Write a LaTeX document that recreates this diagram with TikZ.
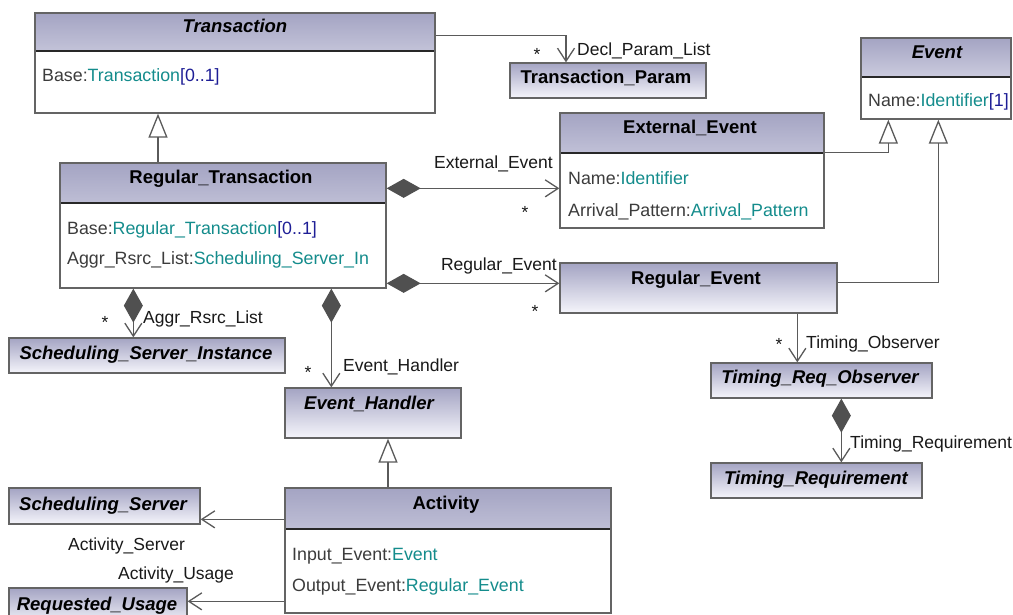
\documentclass[tikz,border=0pt]{standalone}
\usepackage{fontspec}
\setmainfont{Liberation Sans}
\usetikzlibrary{arrows.meta}

\definecolor{hdtop}{RGB}{164,164,195}
\definecolor{hdbot}{RGB}{245,245,251}
\definecolor{boxc}{RGB}{100,100,100}
\definecolor{sepc}{RGB}{40,40,40}
\definecolor{linec}{RGB}{90,90,90}
\definecolor{dfill}{RGB}{80,80,80}
\definecolor{namec}{RGB}{60,60,60}
\definecolor{typec}{RGB}{20,140,140}
\definecolor{multc}{RGB}{30,30,150}
\definecolor{lblc}{RGB}{25,25,25}

\newcommand\tyc[1]{\textcolor{typec}{#1}}
\newcommand\mlc[1]{\textcolor{multc}{#1}}

\tikzset{
  cls/.style={draw=boxc, line width=1.3pt, fill=white, inner sep=0pt, rectangle},
  hdr/.style={path picture={
      \shade[top color=hdtop, bottom color=hdbot]
        (path picture bounding box.north west) rectangle ([yshift=-#1pt]path picture bounding box.north east);
      \draw[sepc, line width=1.6pt]
        ([yshift=-#1pt]path picture bounding box.north west) -- ([yshift=-#1pt]path picture bounding box.north east);
  }},
  full/.style={top color=hdtop, bottom color=hdbot},
  title/.style={inner sep=0pt, text=black, font=\fontsize{18.5}{22}\selectfont\bfseries},
  ititle/.style={inner sep=0pt, text=black, font=\fontsize{18.5}{22}\selectfont\bfseries\itshape},
  attr/.style={inner sep=0pt, anchor=base west, text=namec, font=\fontsize{17.8}{21}\selectfont},
  lbl/.style={inner sep=0pt, text=lblc, font=\fontsize{17.5}{21}\selectfont},
  conn/.style={draw=linec, line width=1.3pt},
  assoc/.style={conn, -{Straight Barb[length=13pt,width=17pt]}},
  comp/.style={conn, {Diamond[length=34pt,width=19pt,color=dfill]}-{Straight Barb[length=13pt,width=17pt]}},
  gen/.style={conn, -{Triangle[open,length=24pt,width=19pt,fill=white]}},
}

\begin{document}
\begin{tikzpicture}[x=1pt, y=-1pt]
  \useasboundingbox (0,0) rectangle (1013,615);
  \fill[white] (0,0) rectangle (1013,615);
  \clip (0,0) rectangle (1013,615);

  % class boxes
  \node[cls, hdr=38, minimum width=400pt, minimum height=100pt] (tr) at (235,63) {};
  \node[cls, full, minimum width=196pt, minimum height=35pt] (tp) at (608,80.5) {};
  \node[cls, hdr=39, minimum width=150pt, minimum height=81pt] (ev) at (936,78.5) {};
  \node[cls, hdr=40, minimum width=264pt, minimum height=115pt] (ee) at (692,170.5) {};
  \node[cls, hdr=40, minimum width=326pt, minimum height=125pt] (rt) at (223,225.5) {};
  \node[cls, full, minimum width=277pt, minimum height=50pt] (re) at (698.5,288) {};
  \node[cls, full, minimum width=276pt, minimum height=35pt] (ssi) at (147,355.5) {};
  \node[cls, full, minimum width=176pt, minimum height=50pt] (eh) at (373,413) {};
  \node[cls, full, minimum width=221pt, minimum height=35pt] (tro) at (821.5,380.5) {};
  \node[cls, full, minimum width=211pt, minimum height=35pt] (treq) at (816.5,480.5) {};
  \node[cls, hdr=41, minimum width=326pt, minimum height=125pt] (act) at (448,550.5) {};
  \node[cls, full, minimum width=191pt, minimum height=36pt] (ss) at (104.5,506) {};
  \node[cls, full, minimum width=178pt, minimum height=36pt] (ru) at (98,606) {};

  % class names
  \node[ititle, anchor=base] (tr-t) at (235,33) {Transaction};
  \node[title, anchor=base] (tp-t) at (606,84) {Transaction\_Param};
  \node[ititle, anchor=base] (ev-t) at (937,59) {Event};
  \node[title, anchor=base] (ee-t) at (690,134) {External\_Event};
  \node[title, anchor=base] (rt-t) at (221,184) {Regular\_Transaction};
  \node[title, anchor=base] (re-t) at (696,284) {Regular\_Event};
  \node[ititle, anchor=base] (ssi-t) at (146,359) {Scheduling\_Server\_Instance};
  \node[ititle, anchor=base] (eh-t) at (369,409) {Event\_Handler};
  \node[ititle, anchor=base] (tro-t) at (820,383) {Timing\_Req\_Observer};
  \node[ititle, anchor=base] (treq-t) at (816,484) {Timing\_Requirement};
  \node[title, anchor=base] (act-t) at (446,509) {Activity};
  \node[ititle, anchor=base] (ss-t) at (103,510) {Scheduling\_Server};
  \node[ititle, anchor=base] (ru-t) at (97,610) {Requested\_Usage};

  % attributes
  \node[attr] (tr-a1) at (42,82) {Base:\tyc{Transaction}\mlc{[0..1]}};
  \node[attr] (ev-a1) at (868,107) {Name:\tyc{Identifier}\mlc{[1]}};
  \node[attr] (ee-a1) at (568,185) {Name:\tyc{Identifier}};
  \node[attr] (ee-a2) at (568,216) {Arrival\_Pattern:\tyc{Arrival\_Pattern}};
  \node[attr] (rt-a1) at (67,235) {Base:\tyc{Regular\_Transaction}\mlc{[0..1]}};
  \node[attr] (rt-a2) at (67,265) {Aggr\_Rsrc\_List:\tyc{Scheduling\_Server\_In}};
  \node[attr] (act-a1) at (292,560) {Input\_Event:\tyc{Event}};
  \node[attr] (act-a2) at (292,591) {Output\_Event:\tyc{Regular\_Event}};

  % connector end points
  \coordinate (c1) at ([yshift=-23pt]tr.north east);
  \coordinate (c1e) at ([xshift=-42pt]tp.north);
  \coordinate (c2) at ([xshift=-65pt]rt.north);
  \coordinate (c3) at ([yshift=-26pt]rt.north east);
  \coordinate (c4) at ([yshift=-121pt]rt.north east);
  \coordinate (c5) at ([xshift=74pt]rt.south west);
  \coordinate (c6) at ([xshift=272pt]rt.south west);
  \coordinate (c7) at ([yshift=-40pt]ee.north east);
  \coordinate (c7e) at ([xshift=28pt]ev.south west);
  \coordinate (c8) at ([yshift=-20pt]re.north east);
  \coordinate (c8e) at ([xshift=78pt]ev.south west);
  \coordinate (c9) at ([xshift=238pt]re.south west);
  \coordinate (c10) at ([xshift=131pt]tro.south west);
  \coordinate (c11) at ([xshift=-60pt]act.north);
  \coordinate (c12) at ([yshift=-32pt]act.north west);
  \coordinate (c13) at ([yshift=-114pt]act.north west);

  % connectors
  \draw[assoc] (c1) -| (c1e);
  \draw[gen] (c2) -- (c2 |- tr.south);
  \draw[comp] (c3) -- (c3 -| ee.west);
  \draw[comp] (c4) -- (c4 -| re.west);
  \draw[comp] (c5) -- (c5 |- ssi.north);
  \draw[comp] (c6) -- (c6 |- eh.north);
  \draw[gen] (c7) -| (c7e);
  \draw[gen] (c8) -| (c8e);
  \draw[assoc] (c9) -- (c9 |- tro.north);
  \draw[comp] (c10) -- (c10 |- treq.north);
  \draw[gen] (c11) -- (c11 |- eh.south);
  \draw[assoc] (c12) -- (c12 -| ss.east);
  \draw[assoc] (c13) -- (c13 -| ru.east);

  % role names and multiplicities
  \node[lbl] (m1) at (537,54) {*};
  \node[lbl, anchor=base west] (r1) at (577,56) {Decl\_Param\_List};
  \node[lbl, anchor=base east] (r3) at (553,169) {External\_Event};
  \node[lbl] (m3) at (525,212) {*};
  \node[lbl, anchor=base east] (r4) at (557,270) {Regular\_Event};
  \node[lbl] (m4) at (535,311) {*};
  \node[lbl, anchor=base west] (r5) at (143,323) {Aggr\_Rsrc\_List};
  \node[lbl] (m5) at (105,322) {*};
  \node[lbl, anchor=base west] (r6) at (343,371) {Event\_Handler};
  \node[lbl] (m6) at (308,372) {*};
  \node[lbl, anchor=base west] (r9) at (806,348) {Timing\_Observer};
  \node[lbl] (m9) at (779,344) {*};
  \node[lbl, anchor=base west] (r10) at (850,448) {Timing\_Requirement};
  \node[lbl, anchor=base west] (r12) at (68,550) {Activity\_Server};
  \node[lbl, anchor=base west] (r13) at (118,579) {Activity\_Usage};
\end{tikzpicture}
\end{document}
